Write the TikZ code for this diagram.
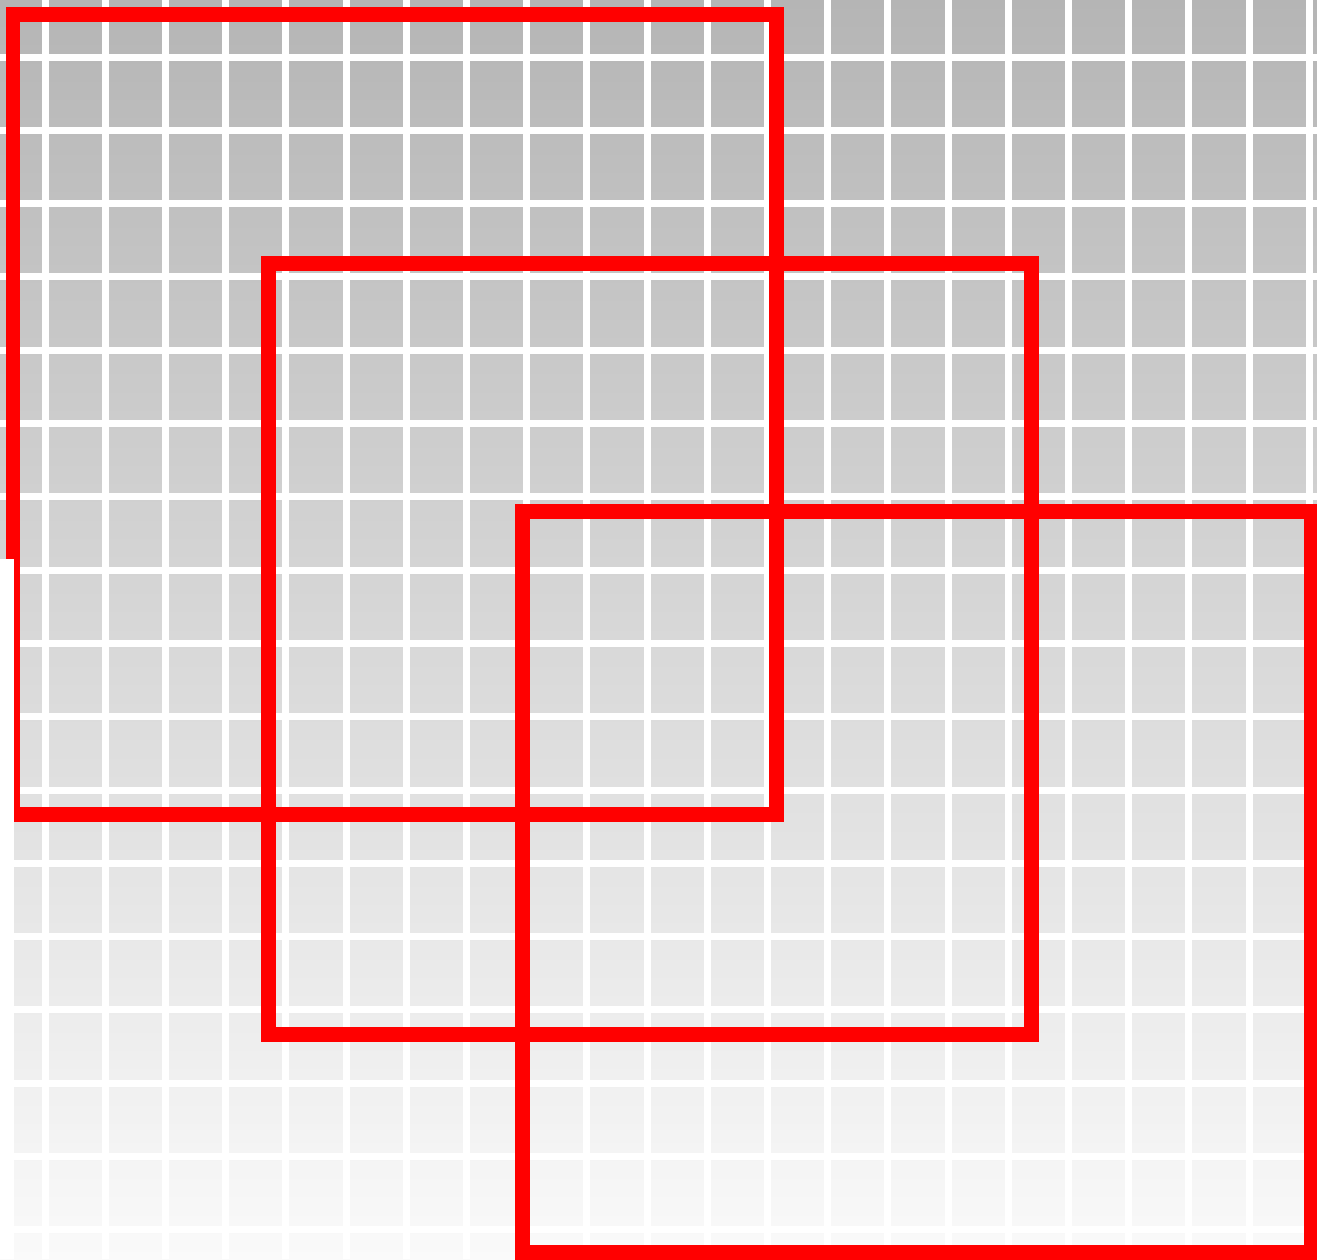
\documentclass[tikz,border=0pt]{standalone}
\usepackage[dvipsnames]{xcolor}
\usepackage{tikz}

\begin{document}
\begin{tikzpicture}[
  x=0.1mm, y=-0.1mm,
  gridline/.style={white, line width=0.7mm},
  frame/.style={draw=red, line width=1.5mm, line join=miter}
]
  \useasboundingbox (0,0) rectangle (1317,1259);
  % background tiles
  \shade[top color=black!29, bottom color=black!2] (0,0) rectangle (1317,1259);
  \foreach \i in {-1,...,21}
    \draw[gridline] ({45+60.2*\i},0) -- ({45+60.2*\i},1259);
  \foreach \j in {-1,...,17}
    \draw[gridline] (0,{57+73.3*\j}) -- (1317,{57+73.3*\j});

  % overlapping frames
  \coordinate (a1) at (13,14);   \coordinate (a2) at (776,814);
  \coordinate (b1) at (268,263); \coordinate (b2) at (1031,1034);
  \coordinate (c1) at (522,511); \coordinate (c2) at (1311,1252);
  \draw[frame] (a1) rectangle (a2);
  \draw[frame] (b1) rectangle (b2);
  \draw[frame] (c1) rectangle (c2);
  \fill[white] (0,559) rectangle (14,1259);
\end{tikzpicture}
\end{document}
